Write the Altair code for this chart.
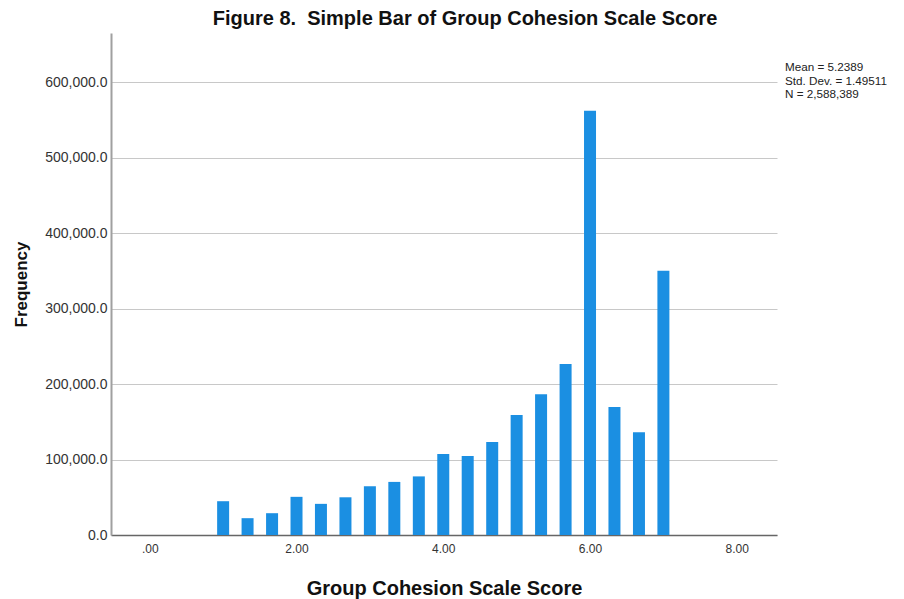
import altair as alt
import pandas as pd

scores = [1.0, 1.333, 1.667, 2.0, 2.333, 2.667, 3.0, 3.333, 3.667, 4.0,
          4.333, 4.667, 5.0, 5.333, 5.667, 6.0, 6.333, 6.667, 7.0]
frequency = [44800, 22300, 28900, 50600, 41300, 50000, 64600, 70400, 77700, 107500,
             104900, 123400, 159200, 186500, 226700, 562600, 169800, 136200, 350300]
stats_lines = ["Mean = 5.2389", "Std. Dev. = 1.49511", "N = 2,588,389"]
x_ticks = [0, 2, 4, 6, 8]
y_ticks = [0, 100000, 200000, 300000, 400000, 500000, 600000]

df = pd.DataFrame({"score": scores, "freq": frequency})

FONT = "Liberation Sans"
W, H = 666, 502

bars = alt.Chart(df).mark_bar(size=12, color="#1b8fe2").encode(
    x=alt.X("score:Q",
            scale=alt.Scale(domain=[-0.46, 8.48], nice=False, zero=False),
            axis=alt.Axis(values=x_ticks, title="Group Cohesion Scale Score",
                          labelExpr="datum.value == 0 ? '.00' : format(datum.value, '.2f')",
                          grid=False, ticks=False, labelPadding=8,
                          labelFontSize=12, labelColor="#333333", labelFont=FONT,
                          titleFont=FONT, titleFontSize=20, titleFontWeight="bold",
                          titleColor="#111111", titleBaseline="alphabetic", titleY=59,
                          domainColor="#666666", domainWidth=1.5)),
    y=alt.Y("freq:Q",
            scale=alt.Scale(domain=[0, 665600], nice=False),
            axis=alt.Axis(values=y_ticks, title="Frequency", format=",.1f",
                          grid=True, gridColor="#c8c8c8", gridWidth=1,
                          ticks=False, labelPadding=4,
                          labelFontSize=14, labelColor="#333333", labelFont=FONT,
                          titleFont=FONT, titleFontSize=17, titleFontWeight="bold",
                          titleColor="#111111", titleAngle=-90, titleX=-90,
                          titleBaseline="middle",
                          domainColor="#a0a0a0", domainWidth=2)),
)

stats = alt.Chart(pd.DataFrame({"t": [0]})).mark_text(
    align="left", baseline="top", font=FONT, fontSize=11.7, color="#222222",
    lineHeight=13.5,
).encode(
    x=alt.value(674), y=alt.value(29), text=alt.value(stats_lines)
)

chart = alt.layer(bars, stats).properties(
    width=W, height=H,
    title=alt.TitleParams("Figure 8.\u00a0 Simple Bar of Group Cohesion Scale Score",
                          font=FONT, fontSize=20, fontWeight="bold", color="#111111",
                          anchor="middle", dx=21, offset=4),
    autosize=alt.AutoSizeParams(type="none"),
    padding={"left": 103, "top": 25, "right": 119, "bottom": 70},
    background="white",
).configure_view(stroke=None)

chart.save("out.html", embed_options={"renderer": "svg", "actions": False})
